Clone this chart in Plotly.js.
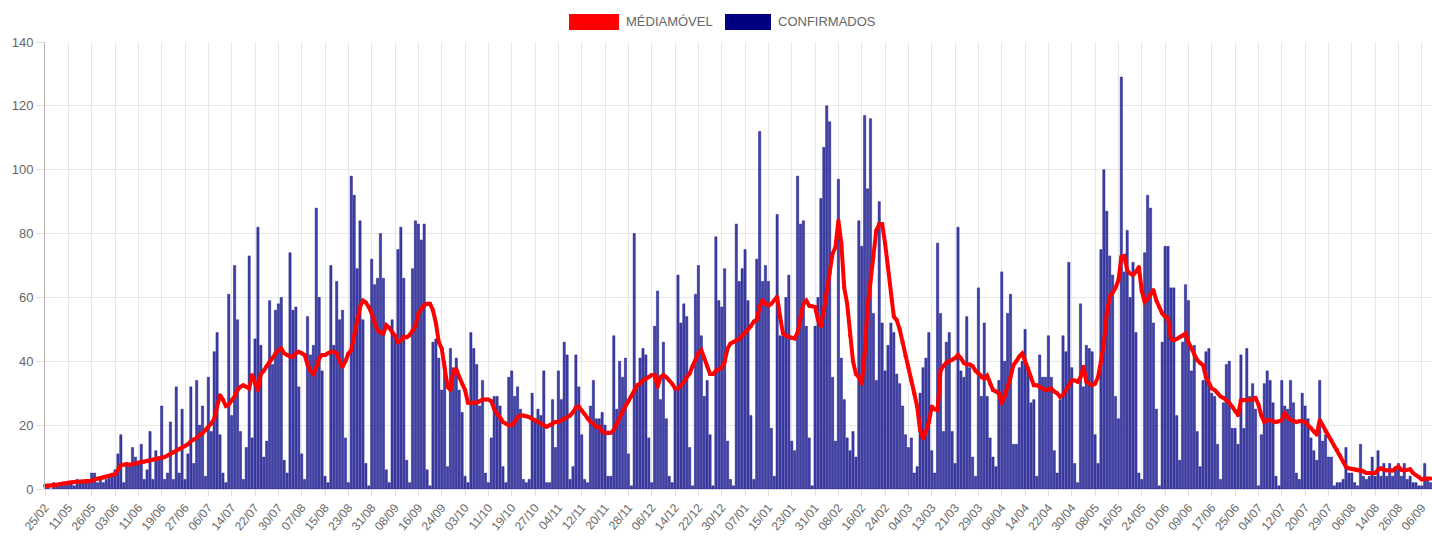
<!DOCTYPE html>
<html><head><meta charset="utf-8">
<script src="https://cdn.plot.ly/plotly-3.0.1.min.js"></script>
<style>html,body{margin:0;padding:0;background:#fff}#chart{width:1432px;height:538px}</style>
</head><body><div id="chart"></div>
<script>
const tickLabels = ["25/02","11/05","26/05","03/06","11/06","19/06","27/06","06/07","14/07","22/07","30/07","07/08","15/08","23/08","31/08","08/09","16/09","24/09","03/10","11/10","19/10","27/10","04/11","12/11","20/11","28/11","06/12","14/12","22/12","30/12","07/01","15/01","23/01","31/01","08/02","16/02","24/02","04/03","13/03","21/03","29/03","06/04","14/04","22/04","30/04","08/05","16/05","24/05","01/06","09/06","17/06","25/06","04/07","12/07","20/07","29/07","06/08","14/08","26/08","06/09"];

const confirmados = [
1,1,0,2,1,2,1,2,
2,2,1,3,2,2,3,2,
5,5,2,3,2,3,4,5,
6,11,17,2,8,7,13,10,
8,14,3,6,18,3,12,9,
26,3,5,21,3,32,5,25,
3,11,32,8,34,20,26,4,
35,18,43,49,17,5,2,61,
23,70,53,18,3,13,73,16,
47,82,45,10,15,59,39,56,
58,60,9,5,74,56,57,32,
11,3,54,42,45,88,60,37,
4,2,70,45,65,53,56,16,
2,98,92,69,84,53,8,1,
72,64,66,80,66,6,2,53,
48,75,82,66,9,2,69,84,
83,78,83,6,1,46,47,41,
31,40,7,44,38,41,31,24,
4,2,49,44,39,26,34,5,
2,16,29,29,26,7,2,35,
37,29,32,25,3,2,3,30,
22,25,23,37,2,2,28,13,
37,28,46,42,3,7,42,32,
17,3,2,26,34,22,22,24,
20,4,4,48,25,40,35,41,
11,1,80,32,41,44,42,16,
2,51,62,28,46,22,4,2,
32,67,52,58,54,13,1,61,
70,48,29,34,17,1,79,59,
57,69,15,3,1,83,65,69,
75,59,23,3,72,112,65,70,
65,19,4,86,48,48,60,67,
15,12,98,83,84,51,16,1,
51,60,91,107,120,115,35,15,
97,41,28,16,12,18,10,84,
76,117,94,116,55,34,90,52,
37,45,52,49,36,33,26,17,
13,16,5,7,30,38,41,49,
12,5,77,55,18,46,49,18,
8,82,37,35,54,38,10,4,
63,29,52,29,16,10,7,34,
68,40,55,61,14,14,38,40,
50,38,27,28,4,42,35,35,
48,35,12,5,28,48,43,71,
38,8,2,58,32,45,44,43,
17,8,75,100,87,73,67,29,
22,129,68,81,60,71,49,5,
3,74,92,88,52,25,1,46,
76,76,63,63,23,9,46,64,
59,37,45,18,7,34,43,44,
30,29,14,3,27,39,40,19,
19,14,42,19,44,29,33,25,
1,17,33,37,34,27,4,1,
34,26,25,34,27,5,3,30,
26,22,16,12,9,34,15,17,
10,10,1,2,2,3,13,5,
5,2,1,14,4,3,4,10,
4,12,4,8,4,8,4,7,
8,4,8,3,4,2,2,1,
1,8,3,2
];

const mediaMovel = [
1,1,1,1,1.3,1.5,1.7,1.8,
2,2.1,2.2,2.3,2.3,2.3,2.3,2.3,
2.6,3,3.2,3.3,3.5,3.8,4.1,4.4,
4.6,6,7.5,7.6,7.8,7.6,7.8,8,
8.3,8.5,8.5,8.7,9,9.2,9.3,9.6,
9.8,10,10.5,11,11.5,12,12.5,13,
13.5,14,15,15.5,16,17,17.4,18.5,
19.5,20.5,22,25.8,29.4,28,26,26.5,
27.8,29,31,32,32.5,32,31.5,35.7,
33,31,36,37,38.5,40,41,42.4,
43.5,44,42.5,42,41.5,41.4,42.5,43,
42.5,42,39,37,36,38,41,42,
42,42.5,43,43,42.5,40,38.3,40,
42.4,43.5,48,53,57,59,58.4,57,
55,52,49.7,49,48.7,51.3,50.5,49.2,
48,46,46.5,47.7,47.5,48.2,49.5,51,
55,56.5,57.6,58,58,56,52,46,
44,38,32,31,37,37.5,35,33,
31,27,27,27,27,27.5,28,28,
28,27.5,25,23.5,22.5,21,20.5,20,
20,21,22.5,23,23,22.8,22.5,22,
21.6,21,20.5,20,19.5,20,20.5,21,
21,21.5,22,22.5,23,24,25.5,25.8,
24.5,23.5,22,21,20.5,19.5,19.5,18,
17.6,17.5,17.6,18.5,20.5,22.5,24.5,26,
27.5,29,30.5,32.5,33,34,34.5,35,
35.7,35.7,32,35,35.7,35,34,33,
31.5,31.5,32.5,33.5,35,36.2,38.5,40.5,
42.5,43.5,41,38.5,36,36,37,37.5,
38,39.8,44,45.6,46,46.6,47,48,
49.2,50,51,52.5,53,57,59,58,
57.4,58,59,60.2,54,48.7,48,47.7,
47.3,47.1,49,54,58,59,57.4,57.2,
57,53,51,56,62,67.5,73.7,75.8,
84,77,63,58,48,40,36,35,
33,42.4,57,65,72.7,81,83,83,
77,69.5,61.2,54,52.9,50,46,41.6,
38,34,30,25.8,18.5,15.8,18,21,
25.8,25,24.7,37,38.5,39.5,40,40.4,
41,42,41,39.5,39,39,38.5,37,
36.2,35,34.6,35.5,33,31,30.5,30,
26.8,29,32,35,38.8,40,41.5,42.4,
40.4,37.7,35,32.5,32.5,32,31.5,31,
31.2,31.5,30.5,30,28.9,29.5,31,32.5,
34,34,33.6,35,38.3,33.6,33,32.5,
33,35,40,45.6,55,60.2,61.5,63,
65.4,72.7,73,68.5,67.5,67,68,69.5,
62,58.6,59.5,61,62.3,59,57,55,
54,53.4,47,46.6,47,47.5,48,48.7,
46,44,42,40.4,39.5,38.8,35,33,
31.5,31,30,29,28.5,27.8,27,25.8,
24.5,23.1,27.8,27.8,27.8,27.8,28,28.5,
26.5,23,21,21.5,21.6,21.2,21,21.2,
21.6,23.7,22.5,21.6,21.3,21,21.2,21.3,
21,20,19,18,17,21.6,20,18,
16.5,15.3,13.5,12.2,10.5,8.5,7,6.5,
6.3,6.2,6.1,6,5.5,5,4.9,4.9,
5,6,6.5,6,5.8,5.8,5.8,6.5,
7,6,5.8,6,6.2,5,4.4,3.8,
3,3.2,3.3,3.3
];

const legendNames = ["MÉDIAMÓVEL", "CONFIRMADOS"];

const idx = confirmados.map((_, i) => i);
const tickvals = tickLabels.map((_, i) => i * 8);

const traces = [
  {type:'bar', x: idx, y: confirmados, name: legendNames[1],
   marker:{color:'rgba(40,40,150,0.88)', line:{color:'#000080', width:0.4}},
   hoverinfo:'skip', showlegend:false},
  {type:'scatter', mode:'lines+markers', x: idx, y: mediaMovel, name: legendNames[0],
   line:{color:'#ff0000', width:4}, marker:{color:'#ff0000', size:4},
   cliponaxis:false, hoverinfo:'skip', showlegend:false}
];

const W = 1432, H = 538, mL = 45, mR = 0, mT = 42, mB = 49;
const pw = W - mL - mR, ph = H - mT - mB;
const px = v => (v - mL) / pw;
const py = v => (H - mB - v) / ph;

const layout = {
  width: W, height: H,
  margin: {l: mL, r: mR, t: mT, b: mB, pad: 0},
  paper_bgcolor: '#ffffff', plot_bgcolor: '#ffffff',
  font: {family: '"Liberation Sans", Arial, sans-serif', color: '#666666'},
  bargap: 0.22,
  showlegend: false,
  xaxis: {
    range: [0, 475.5], tickmode: 'array', tickvals: tickvals, ticktext: tickLabels,
    tickangle: -50, tickfont: {size: 12, color: '#666666'},
    showgrid: true, gridcolor: '#e8e8e8', gridwidth: 1,
    ticks: 'outside', ticklen: 6, tickcolor: '#e0e0e0',
    showline: true, linecolor: '#d9d9d9', zeroline: false, fixedrange: true
  },
  yaxis: {
    range: [0, 140], dtick: 20, tick0: 0,
    tickfont: {size: 13, color: '#666666'},
    showgrid: true, gridcolor: '#e8e8e8', gridwidth: 1,
    ticks: 'outside', ticklen: 8, tickcolor: '#e0e0e0',
    showline: true, linecolor: '#b5b5b5', zeroline: false, fixedrange: true
  },
  shapes: [
    {type:'rect', xref:'paper', yref:'paper', x0: px(569), x1: px(619), y0: py(30), y1: py(14),
     fillcolor:'#ff0000', line:{width:0}},
    {type:'rect', xref:'paper', yref:'paper', x0: px(725), x1: px(771), y0: py(30), y1: py(14),
     fillcolor:'#000080', line:{width:0}}
  ],
  annotations: [
    {xref:'paper', yref:'paper', x: px(624), y: py(22), xanchor:'left', yanchor:'middle',
     text: legendNames[0], showarrow:false, font:{size:13, color:'#666666'}},
    {xref:'paper', yref:'paper', x: px(776), y: py(22), xanchor:'left', yanchor:'middle',
     text: legendNames[1], showarrow:false, font:{size:13, color:'#666666'}}
  ]
};

Plotly.newPlot('chart', traces, layout, {staticPlot: true, displayModeBar: false});
</script>
</body></html>
